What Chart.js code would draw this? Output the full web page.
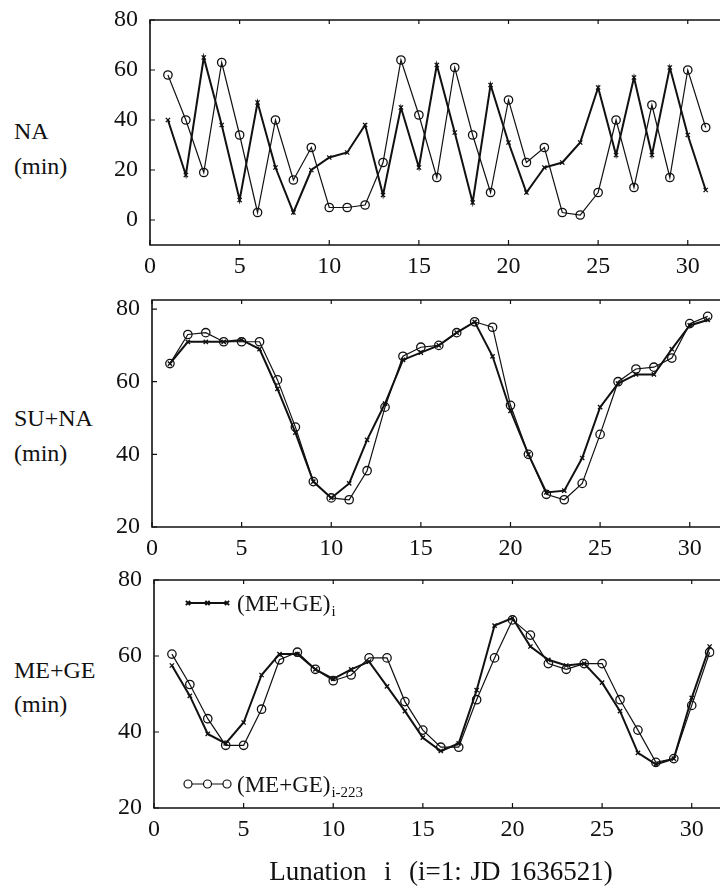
<!DOCTYPE html>
<html>
<head>
<meta charset="utf-8">
<script src="https://cdn.jsdelivr.net/npm/chart.js@4/dist/chart.umd.min.js"></script>
<style>
  html, body { margin: 0; padding: 0; background: #fff; overflow: hidden; }
  body { width: 720px; height: 894px; position: relative; font-family: "Liberation Serif", "DejaVu Serif", serif; color: #111; }
  canvas { position: absolute; left: 0; }
  .lbl { position: absolute; left: 14px; font-size: 24px; line-height: 24px; }
  .xtitle { position: absolute; left: 0; width: 882px; text-align: center; top: 856px; font-size: 27px; word-spacing: 2px; }
</style>
</head>
<body>
<div class="lbl" style="top:119px">NA</div>
<div class="lbl" style="top:154px">(min)</div>
<div class="lbl" style="top:406px">SU+NA</div>
<div class="lbl" style="top:441px">(min)</div>
<div class="lbl" style="top:658px">ME+GE</div>
<div class="lbl" style="top:692px">(min)</div>
<canvas id="naChart"></canvas>
<canvas id="suChart"></canvas>
<canvas id="meChart"></canvas>
<div class="xtitle">Lunation &nbsp;i &nbsp;(i=1: JD 1636521)</div>

<script>
// lunation index
const lunations = [1, 2, 3, 4, 5, 6, 7, 8, 9, 10, 11, 12, 13, 14, 15, 16,
                   17, 18, 19, 20, 21, 22, 23, 24, 25, 26, 27, 28, 29, 30, 31];

// NA (min)
const naCross  = [40, 18, 65, 38, 8, 47, 21, 3, 20, 25, 27, 38, 10, 45, 21, 62,
                  35, 7, 54, 31, 11, 21, 23, 31, 53, 26, 57, 26, 61, 34, 12];
const naCircle = [58, 40, 19, 63, 34, 3, 40, 16, 29, 5, 5, 6, 23, 64, 42, 17,
                  61, 34, 11, 48, 23, 29, 3, 2, 11, 40, 13, 46, 17, 60, 37];

// SU+NA (min)
const suCross  = [65, 71, 71, 71, 71.5, 69, 58, 46, 32.5, 28, 32, 44, 54, 66, 68, 70,
                  73.5, 76.5, 67, 52, 40, 29.5, 30, 39, 53, 59.5, 62, 62, 69, 75.5, 77];
const suCircle = [65, 73, 73.5, 71, 71, 71, 60.5, 47.5, 32.5, 28, 27.5, 35.5, 53, 67, 69.5, 70,
                  73.5, 76.5, 75, 53.5, 40, 29, 27.5, 32, 45.5, 60, 63.5, 64, 66.5, 76, 78];

// ME+GE (min): (ME+GE)_i and (ME+GE)_i-223
const meCross  = [57.5, 49.5, 39.5, 37, 42.5, 55, 60.5, 60.5, 56.5, 54, 56.5, 58.5, 52, 45.5, 38.5, 35,
                  37, 51, 68, 70, 62.5, 59, 57.5, 58, 53, 45.5, 34.5, 31.5, 33, 49, 62.5];
const meCircle = [60.5, 52.5, 43.5, 36.5, 36.5, 46, 59, 61, 56.5, 53.5, 55, 59.5, 59.5, 48, 40.5, 36,
                  36, 48.5, 59.5, 69.5, 65.5, 58, 56.5, 58, 58, 48.5, 40.5, 32, 33, 47, 61];

const xTicks = [0, 5, 10, 15, 20, 25, 30];
const naTicks = [0, 20, 40, 60, 80];
const pairTicks = [20, 40, 60, 80];

const INK = '#111';
const SERIF = '"Liberation Serif", "DejaVu Serif", serif';

// frame with inward tick marks (left, top, bottom; right edge runs off the page)
const framePlugin = {
    id: 'frame',
    afterDraw(chart) {
        const { ctx, chartArea: a, scales } = chart;
        ctx.save();
        ctx.strokeStyle = INK;
        ctx.lineWidth = 1.6;
        ctx.beginPath();
        ctx.moveTo(chart.width, a.top);
        ctx.lineTo(a.left, a.top);
        ctx.lineTo(a.left, a.bottom);
        ctx.lineTo(chart.width, a.bottom);
        ctx.stroke();
        ctx.lineWidth = 1.2;
        ctx.beginPath();
        scales.y.ticks.forEach(t => {
            const py = scales.y.getPixelForValue(t.value);
            ctx.moveTo(a.left, py);
            ctx.lineTo(a.left + 5, py);
        });
        scales.x.ticks.forEach(t => {
            const px = scales.x.getPixelForValue(t.value);
            ctx.moveTo(px, a.bottom);
            ctx.lineTo(px, a.bottom - 5);
            ctx.moveTo(px, a.top);
            ctx.lineTo(px, a.top + 4);
        });
        ctx.stroke();
        ctx.restore();
    }
};

// hand-placed legend of the bottom panel
const legendPlugin = {
    id: 'meLegend',
    afterDraw(chart) {
        const { ctx, chartArea: a } = chart;
        const rows = [
            { y: a.top + 23, style: 'crossRot', radius: 3, sub: 'i', lw: 2 },
            { y: a.bottom - 24, style: 'circle', radius: 4, sub: 'i-223', lw: 1.2 }
        ];
        rows.forEach(r => {
            const x0 = a.left + 34, x1 = a.left + 73;
            ctx.save();
            ctx.strokeStyle = INK;
            ctx.lineWidth = r.lw;
            ctx.beginPath();
            ctx.moveTo(x0, r.y);
            ctx.lineTo(x1, r.y);
            ctx.stroke();
            ctx.fillStyle = '#fff';
            [x0, (x0 + x1) / 2, x1].forEach(px => {
                Chart.helpers.drawPoint(ctx, {
                    pointStyle: r.style, radius: r.radius, borderWidth: 1.3, rotation: 0
                }, px, r.y);
            });
            ctx.fillStyle = INK;
            ctx.textBaseline = 'alphabetic';
            ctx.font = '23px ' + SERIF;
            const tx = a.left + 83;
            ctx.fillText('(ME+GE)', tx, r.y + 8);
            const w = ctx.measureText('(ME+GE)').width;
            ctx.font = '15px ' + SERIF;
            ctx.fillText(r.sub, tx + w + 1, r.y + 13);
            ctx.restore();
        });
    }
};

function makePanel(id, cross, circle, area, yMin, yMax, yTicks, withLegend) {
    const padTop = 12, xAxisH = 44;
    const canvas = document.getElementById(id);
    canvas.style.top = (area.top - padTop) + 'px';
    canvas.width = 720;
    canvas.height = area.bottom - area.top + padTop + xAxisH;
    const xMax = (720 - area.left) / 18.1;

    return new Chart(canvas, {
        type: 'line',
        data: {
            labels: lunations,
            datasets: [
                {
                    data: cross,
                    borderColor: INK,
                    borderWidth: 2,
                    pointStyle: 'crossRot',
                    pointRadius: 3,
                    pointBorderWidth: 1.4,
                    pointBorderColor: INK,
                    tension: 0
                },
                {
                    data: circle,
                    borderColor: INK,
                    borderWidth: 1.2,
                    pointStyle: 'circle',
                    pointRadius: 4.2,
                    pointBorderWidth: 1.3,
                    pointBorderColor: INK,
                    pointBackgroundColor: 'rgba(255,255,255,0)',
                    tension: 0
                }
            ].map(ds => ({ ...ds, data: ds.data.map((v, k) => ({ x: lunations[k], y: v })) }))
        },
        options: {
            responsive: false,
            animation: false,
            events: [],
            layout: { padding: { top: padTop, left: 0, right: 0, bottom: 0 } },
            plugins: { legend: { display: false }, tooltip: { enabled: false } },
            scales: {
                x: {
                    type: 'linear',
                    min: 0,
                    max: xMax,
                    afterBuildTicks: s => { s.ticks = xTicks.map(v => ({ value: v })); },
                    afterFit: s => { s.height = xAxisH; s.paddingLeft = 0; s.paddingRight = 0; },
                    grid: { display: false, drawTicks: false },
                    border: { display: false },
                    ticks: {
                        padding: 7,
                        maxRotation: 0,
                        autoSkip: false,
                        color: INK,
                        font: { family: SERIF, size: 24 }
                    }
                },
                y: {
                    min: yMin,
                    max: yMax,
                    afterBuildTicks: s => { s.ticks = yTicks.map(v => ({ value: v })); },
                    afterFit: s => { s.width = area.left; s.paddingTop = 0; s.paddingBottom = 0; },
                    grid: { display: false, drawTicks: false },
                    border: { display: false },
                    ticks: {
                        padding: 12,
                        autoSkip: false,
                        color: INK,
                        font: { family: SERIF, size: 24 }
                    }
                }
            }
        },
        plugins: withLegend ? [framePlugin, legendPlugin] : [framePlugin]
    });
}

makePanel('naChart', naCross, naCircle, { left: 150, top: 20, bottom: 245 }, -10, 80, naTicks, false);
makePanel('suChart', suCross, suCircle, { left: 152, top: 300, bottom: 527 }, 20, 82.5, pairTicks, false);
makePanel('meChart', meCross, meCircle, { left: 154, top: 580, bottom: 808 }, 20, 80, pairTicks, true);
</script>
</body>
</html>
